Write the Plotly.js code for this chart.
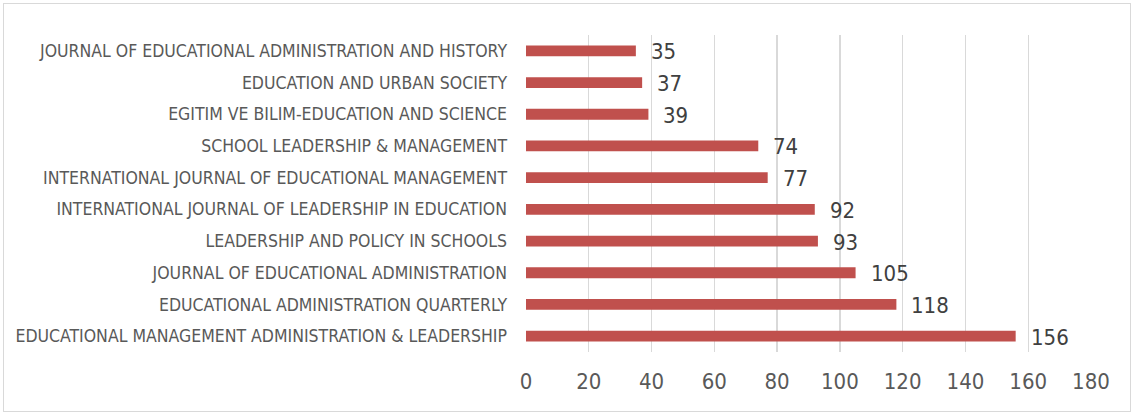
<!DOCTYPE html>
<html>
<head>
<meta charset="utf-8">
<script src="https://cdn.plot.ly/plotly-3.0.1.min.js"></script>
<style>
  html, body { margin: 0; padding: 0; background: #ffffff; }
  #wrap { position: relative; width: 1133px; height: 415px; }
  #chart { width: 1133px; height: 415px; }
  #frame { position: absolute; left: 3px; top: 3px; width: 1128px; height: 409px;
           border: 1.5px solid #D9D9D9; box-sizing: border-box; pointer-events: none; }
</style>
</head>
<body>
<div id="wrap">
  <div id="chart"></div>
  <div id="frame"></div>
</div>
<script>
// Journals, listed top to bottom as in the chart
const journals = [
  "JOURNAL OF EDUCATIONAL ADMINISTRATION AND HISTORY",
  "EDUCATION AND URBAN SOCIETY",
  "EGITIM VE BILIM-EDUCATION AND SCIENCE",
  "SCHOOL LEADERSHIP & MANAGEMENT",
  "INTERNATIONAL JOURNAL OF EDUCATIONAL MANAGEMENT",
  "INTERNATIONAL JOURNAL OF LEADERSHIP IN EDUCATION",
  "LEADERSHIP AND POLICY IN SCHOOLS",
  "JOURNAL OF EDUCATIONAL ADMINISTRATION",
  "EDUCATIONAL ADMINISTRATION QUARTERLY",
  "EDUCATIONAL MANAGEMENT ADMINISTRATION & LEADERSHIP"
];
const counts = [35, 37, 39, 74, 77, 92, 93, 105, 118, 156];
const xTicks = [0, 20, 40, 60, 80, 100, 120, 140, 160, 180];

const FONT = "'Liberation Sans Narrow', 'Arial Narrow', 'DejaVu Sans Condensed', sans-serif";

const trace = {
  type: "bar",
  orientation: "h",
  y: journals,
  x: counts,
  marker: { color: "#C0504D" },
  hoverinfo: "x+y"
};

const annotations = journals.map((j, i) => ({
  x: counts[i],
  y: j,
  xref: "x",
  yref: "y",
  text: String(counts[i]),
  showarrow: false,
  xanchor: "left",
  yanchor: "middle",
  xshift: 13,
  yshift: -1,
  font: { family: FONT, size: 22, color: "#404040" }
}));

const layout = {
  width: 1133,
  height: 415,
  margin: { l: 526, r: 42, t: 35, b: 63 },
  paper_bgcolor: "#ffffff",
  plot_bgcolor: "#ffffff",
  bargap: 0.66,
  showlegend: false,
  font: { family: FONT, color: "#595959" },
  xaxis: {
    range: [0, 180],
    tickvals: xTicks,
    ticktext: xTicks.map(String),
    showgrid: true,
    gridcolor: "#D9D9D9",
    gridwidth: 1.3,
    zeroline: false,
    showline: false,
    ticks: "",
    ticklabelstandoff: 14,
    tickfont: { family: FONT, size: 22, color: "#595959" },
    fixedrange: true
  },
  yaxis: {
    type: "category",
    autorange: "reversed",
    showgrid: false,
    zeroline: false,
    showline: false,
    ticks: "",
    ticklabelstandoff: 18,
    tickfont: { family: FONT, size: 17.5, color: "#595959" },
    fixedrange: true
  },
  annotations: annotations
};

Plotly.newPlot("chart", [trace], layout, { displayModeBar: false, staticPlot: true });
</script>
</body>
</html>
